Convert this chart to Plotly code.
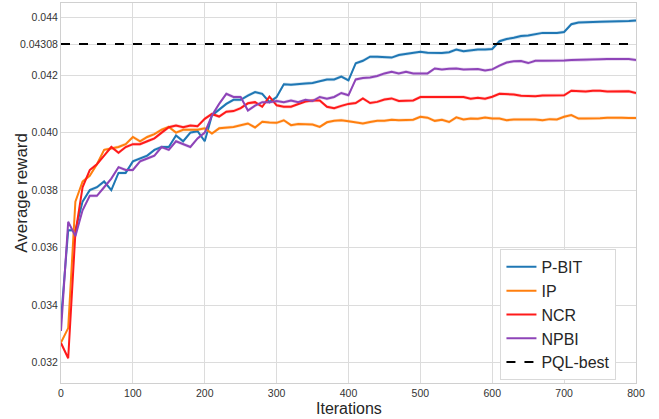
import plotly.graph_objects as go

iterations = list(range(0, 801, 10))

p_bit = [0.0335, 0.0366, 0.0366, 0.0376, 0.0380, 0.0381, 0.0383, 0.0380, 0.0386, 0.0386,
         0.0390, 0.0391, 0.0392, 0.0394, 0.0395, 0.0395, 0.0399, 0.0397, 0.0400, 0.04005,
         0.0397, 0.0406, 0.0408, 0.0410, 0.04114, 0.04114, 0.04129, 0.04141, 0.04135, 0.04106,
         0.04124, 0.04168, 0.04167, 0.04168, 0.04171, 0.04173, 0.0418, 0.04185, 0.04185, 0.04195,
         0.04182, 0.04241, 0.0425, 0.04264, 0.04264, 0.04262, 0.04261, 0.0427, 0.04273, 0.04278,
         0.04281, 0.04278, 0.04277, 0.04277, 0.0428, 0.04289, 0.04283, 0.04286, 0.04289, 0.04289,
         0.04291, 0.04318, 0.04326, 0.0433, 0.04336, 0.04338, 0.04342, 0.04347, 0.04347, 0.04347,
         0.0435, 0.04377, 0.04383, 0.04383, 0.04385, 0.04386, 0.04386, 0.04387, 0.04388, 0.04388,
         0.0439]

ip = [0.0327, 0.0332, 0.0376, 0.0383, 0.0385, 0.0389, 0.0394, 0.03945, 0.0395, 0.0396,
      0.03985, 0.0397, 0.03985, 0.03995, 0.0401, 0.0402, 0.0400, 0.0401, 0.0401, 0.0401,
      0.04015, 0.03997, 0.04015, 0.04018, 0.0402, 0.04026, 0.04032, 0.04018, 0.04038, 0.04035,
      0.04034, 0.04043, 0.04026, 0.0403, 0.0403, 0.04028, 0.0402, 0.04036, 0.04041, 0.04043,
      0.0404, 0.04037, 0.04032, 0.04037, 0.04041, 0.04041, 0.04045, 0.04043, 0.04043, 0.04045,
      0.04055, 0.04052, 0.04041, 0.04045, 0.04037, 0.04053, 0.04046, 0.04049, 0.04048, 0.04053,
      0.04049, 0.04049, 0.04043, 0.04046, 0.04046, 0.04046, 0.04046, 0.04043, 0.04047, 0.04046,
      0.04055, 0.04061, 0.04049, 0.04049, 0.04049, 0.0405, 0.04052, 0.04053, 0.04052, 0.04051,
      0.04051]

ncr = [0.03268, 0.03215, 0.0365, 0.0381, 0.0387, 0.0389, 0.0392, 0.0395, 0.0393, 0.0395,
       0.0396, 0.0396, 0.0397, 0.0398, 0.0400, 0.04019, 0.04025, 0.04019, 0.04025, 0.04022,
       0.04048, 0.04065, 0.04056, 0.04073, 0.04075, 0.04085, 0.04102, 0.04106, 0.0409, 0.04125,
       0.04095, 0.0409, 0.0409, 0.041, 0.04108, 0.04112, 0.04112, 0.0409, 0.04085, 0.04093,
       0.041, 0.04103, 0.04119, 0.04103, 0.04107, 0.04115, 0.04119, 0.0411, 0.04112, 0.04112,
       0.04124, 0.04124, 0.04122, 0.04122, 0.04122, 0.04124, 0.04124, 0.04118, 0.04121, 0.04118,
       0.04125, 0.04135, 0.04134, 0.04133, 0.04128, 0.04127, 0.04127, 0.04129, 0.0413, 0.0413,
       0.0413, 0.04146, 0.04144, 0.04143, 0.04146, 0.04146, 0.04143, 0.04143, 0.04143, 0.04144,
       0.04138]

npbi = [0.0331, 0.0369, 0.0364, 0.0373, 0.0378, 0.0378, 0.0381, 0.0384, 0.0388, 0.0387,
        0.0387, 0.0390, 0.0391, 0.0392, 0.0395, 0.0394, 0.0397, 0.0396, 0.0395, 0.0398,
        0.0400, 0.0406, 0.0410, 0.04135, 0.04124, 0.04124, 0.04077, 0.04094, 0.04106, 0.04106,
        0.0411, 0.04106, 0.04112, 0.04106, 0.04114, 0.0411, 0.04124, 0.04118, 0.04124, 0.04138,
        0.0413, 0.04185, 0.0419, 0.04192, 0.04197, 0.04206, 0.04212, 0.04206, 0.04212, 0.04206,
        0.04206, 0.04206, 0.04223, 0.0422, 0.04222, 0.04223, 0.0422, 0.0422, 0.04221, 0.04216,
        0.0422, 0.04233, 0.04244, 0.04248, 0.04249, 0.04242, 0.0425, 0.0425, 0.0425, 0.04251,
        0.04251, 0.04253, 0.04253, 0.04253, 0.04255, 0.04255, 0.04256, 0.04256, 0.04256, 0.04256,
        0.04253]

pql_best = 0.04308

series_names = ["P-BIT", "IP", "NCR", "NPBI"]
series_values = [p_bit, ip, ncr, npbi]
series_colors = ["#1f77b4", "#ff7f0e", "#ff1a1a", "#8e44b8"]
band_colors = ["rgba(31,119,180,0.2)", "rgba(255,127,14,0.2)", "rgba(255,26,26,0.2)", "rgba(142,68,184,0.2)"]
band_half = 0.00006

y_tick_vals = [0.032, 0.034, 0.036, 0.038, 0.040, 0.042, 0.04308, 0.044]
y_tick_text = ["0.032", "0.034", "0.036", "0.038", "0.040", "0.042", "0.04308", "0.044"]
x_tick_vals = [0, 100, 200, 300, 400, 500, 600, 700, 800]

fig = go.Figure()

for name, vals, col, bcol in zip(series_names, series_values, series_colors, band_colors):
    upper = [v + band_half for v in vals]
    lower = [v - band_half for v in vals]
    fig.add_trace(go.Scatter(x=iterations + iterations[::-1], y=upper + lower[::-1],
                             fill="toself", fillcolor=bcol, line=dict(width=0),
                             mode="lines", showlegend=False, hoverinfo="skip"))

for name, vals, col in zip(series_names, series_values, series_colors):
    fig.add_trace(go.Scatter(x=iterations, y=vals, mode="lines", name=name,
                             line=dict(color=col, width=2)))

fig.add_trace(go.Scatter(x=[0, 800], y=[pql_best, pql_best], mode="lines", name="PQL-best",
                         line=dict(color="black", width=2, dash="dash")))

fig.update_layout(
    width=659, height=419,
    margin=dict(l=61, r=23, t=3, b=36, autoexpand=False),
    paper_bgcolor="white", plot_bgcolor="white",
    font=dict(family="Liberation Sans, Arial, sans-serif", color="#262626"),
    legend=dict(x=0.966, y=0.008, xanchor="right", yanchor="bottom",
                bgcolor="white", bordercolor="#d9d9d9", borderwidth=1,
                font=dict(size=16, color="#262626")),
    showlegend=True,
    annotations=[
        dict(text="Iterations", xref="paper", yref="paper", x=0.5, y=-0.066,
             xanchor="center", yanchor="middle", showarrow=False, font=dict(size=16)),
        dict(text="Average reward", xref="paper", yref="paper", x=-0.07, y=0.5,
             xanchor="center", yanchor="middle", textangle=-90, showarrow=False, font=dict(size=17)),
    ],
)
fig.update_xaxes(range=[0, 800], tickvals=x_tick_vals, showgrid=True, gridcolor="#dcdcdc", gridwidth=1,
                 showline=True, linecolor="#d0d0d0", mirror=True, zeroline=False,
                 tickfont=dict(size=10.5, color="#333333"), ticks="")
fig.update_yaxes(range=[0.03129, 0.04451], tickvals=y_tick_vals, ticktext=y_tick_text,
                 showgrid=True, gridcolor="#dcdcdc", gridwidth=1,
                 showline=True, linecolor="#d0d0d0", mirror=True, zeroline=False,
                 tickfont=dict(size=10.5, color="#333333"), ticks="")

fig.write_html("out.html", config={"displayModeBar": False},
               post_script="document.body.style.margin='0px';")
